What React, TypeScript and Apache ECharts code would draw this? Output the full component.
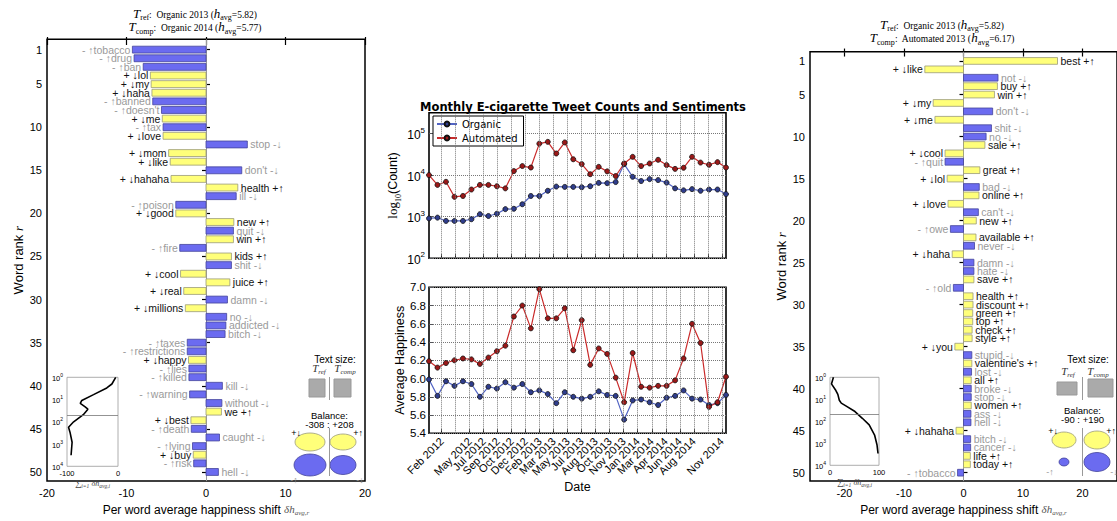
import React, { useEffect, useRef } from "react";
import * as echarts from "echarts";

const SANS = "'Liberation Sans', Arial, Helvetica, sans-serif";
const DEJAVU = "'DejaVu Sans', sans-serif";
const SERIF = "'Liberation Serif', 'DejaVu Serif', serif";

// ---------- Left word shift: Organic 2013 vs Organic 2014 ----------
const leftWords = ["tobacco","drug","ban","lol","my","haha","banned","doesn't","me","tax",
  "love","stop","mom","like","don't","hahaha","health","ill","poison","good",
  "new","quit","win","fire","kids","shit","cool","juice","real","damn",
  "millions","no","addicted","bitch","taxes","restrictions","happy","lies","killed","kill",
  "warning","without","we","best","death","caught","lying","buy","risk","hell"];
const leftShifts = [-9.26,-9.05,-7.9,-7.0,-6.9,-6.8,-6.7,-5.6,-5.5,-5.4,
  -5.4,5.2,-4.7,-4.5,4.5,-4.4,4.0,3.8,-3.8,-3.8,
  3.5,3.45,3.45,-3.3,3.2,3.2,-3.2,3.0,-2.8,2.7,
  -2.6,2.6,2.5,2.4,-2.36,-2.36,-2.2,-2.15,-2.15,2.06,
  -2.06,2.0,1.94,-1.9,-1.85,1.7,-1.7,-1.6,-1.55,1.56];
const leftKinds = "---+++--+-" + "+-++-++--+" + "+-+-+-+++-" + "+-----+---" + "--++---+--";

// ---------- Right word shift: Organic 2013 vs Automated 2013 ----------
const rightWords = ["best","like","not","buy","win","my","don't","me","shit","no",
  "sale","cool","quit","great","lol","bad","online","love","can't","new",
  "owe","available","never","haha","damn","hate","save","old","health","discount",
  "green","top","check","style","you","stupid","valentine's","lost","all","broke",
  "stop","women","ass","hell","hahaha","bitch","cancer","life","today","tobacco"];
const rightShifts = [15.8,-6.5,5.8,5.7,5.2,-5.1,4.9,-4.8,4.7,3.8,
  3.6,-3.1,-3.1,2.75,-2.75,2.65,2.6,-2.6,2.5,2.15,
  -2.2,2.1,1.85,-1.9,1.75,1.75,1.75,-1.7,1.6,1.6,
  1.55,1.55,1.45,1.45,-1.45,1.4,1.4,1.35,1.3,1.3,
  1.3,1.3,1.25,1.25,-1.25,1.2,1.2,1.15,1.15,-1.0];
const rightKinds = "++-+++-+--" + "++-++-++-+" + "-+-+--+-++" + "+++++-+-+-" + "-+--+--++-";

const rankTicks = [1, 5, 10, 15, 20, 25, 30, 35, 40, 45, 50];
const shiftTicks = [-20, -10, 0, 10, 20];

// ---------- Insets (cumulative shift) ----------
const leftCumRanks = [1, 2, 3, 6, 11, 15, 21, 27, 48, 100, 175, 300, 830, 3200];
const leftCumValues = [-4.5, -12, -22, -48, -71, -74, -65, -59, -68, -87, -97, -94, -90, -92];
const rightCumRanks = [1, 2, 4, 6, 11, 15, 21, 36, 73, 146, 420, 1200, 2900];
const rightCumValues = [7, 3, 12, 16, 19, 23, 34, 51, 66, 80, 91, 96, 98];

// ---------- Monthly series ----------
const months = ["Jan 2012","Feb 2012","Mar 2012","Apr 2012","May 2012","Jun 2012","Jul 2012","Aug 2012","Sep 2012","Oct 2012","Nov 2012","Dec 2012",
  "Jan 2013","Feb 2013","Mar 2013","Apr 2013","May 2013","Jun 2013","Jul 2013","Aug 2013","Sep 2013","Oct 2013","Nov 2013","Dec 2013",
  "Jan 2014","Feb 2014","Mar 2014","Apr 2014","May 2014","Jun 2014","Jul 2014","Aug 2014","Sep 2014","Oct 2014","Nov 2014","Dec 2014"];
const dateTickLabels = ["Feb 2012","Apr 2012","May 2012","Jul 2012","Sep 2012","Oct 2012","Dec 2012","Feb 2013","Mar 2013","May 2013","Jul 2013",
  "Aug 2013","Oct 2013","Nov 2013","Jan 2014","Mar 2014","Apr 2014","Jun 2014","Aug 2014","Sep 2014","Nov 2014"];
const dateTickStart = 1.5; // in months after the first point
const dateTickStep = 1.65; // months between date ticks
const organicCounts = [910,950,790,790,790,870,1150,1040,1180,1520,1550,1990,3150,3150,4200,5300,5200,5200,5100,5400,6500,6400,6800,18400,9100,7200,8000,7600,6600,4800,4300,4600,4200,4500,4500,3500];
const automatedCounts = [10000,5800,6900,3000,3150,4500,5800,5800,5400,4800,12500,16500,15200,57000,63000,33000,61000,24000,18400,10500,15800,12300,9500,19000,27500,16500,19000,23300,17400,14100,15000,27500,20000,17700,20500,15200];
const organicHappiness = [5.99,5.81,5.97,5.92,5.97,5.94,5.80,5.91,5.89,5.96,5.90,5.94,5.85,5.87,5.83,5.73,5.85,5.80,5.78,5.80,5.86,5.82,5.81,5.55,5.76,5.77,5.74,5.71,5.79,5.81,5.87,5.78,5.77,5.71,5.73,5.82];
const automatedHappiness = [6.19,6.12,6.17,6.20,6.22,6.21,6.16,6.23,6.30,6.36,6.68,6.80,6.55,6.98,6.66,6.66,6.77,6.31,6.64,6.15,6.33,6.27,6.01,5.74,6.28,5.91,5.90,5.92,5.92,5.98,6.22,6.60,6.39,5.69,5.74,6.02];

const BLUE = "#6b6bf0";
const BLUE_EDGE = "#44449a";
const YELLOW = "#ffff7a";
const YELLOW_EDGE = "#9a9a7a";
const GRAY_TXT = "#9a9a9a";

function shiftSeries(words: string[], shifts: number[], kinds: string, xi: number, yi: number) {
  return {
    type: "custom",
    xAxisIndex: xi,
    yAxisIndex: yi,
    clip: false,
    data: shifts.map((v, i) => [v, i + 1]),
    encode: { x: 0, y: 1 },
    renderItem: (params: any, api: any) => {
      const i = params.dataIndex;
      const v = api.value(0) as number;
      const r = api.value(1) as number;
      const p0 = api.coord([0, r]);
      const p1 = api.coord([v, r]);
      const h = Math.abs(api.size([0, 0.8])[1]);
      const x = Math.min(p0[0], p1[0]);
      const w = Math.abs(p1[0] - p0[0]);
      const plus = kinds[i] === "+";
      const arrow = (v < 0) === plus ? "↓" : "↑";
      const sign = plus ? "+" : "-";
      const neg = v < 0;
      const label = neg ? `${sign} ${arrow}${words[i]}` : `${words[i]} ${sign}${arrow}`;
      return {
        type: "group",
        children: [
          {
            type: "rect",
            shape: { x, y: p0[1] - h / 2, width: w, height: h },
            style: { fill: plus ? YELLOW : BLUE, stroke: plus ? YELLOW_EDGE : BLUE_EDGE, lineWidth: 0.8 },
          },
          {
            type: "text",
            style: {
              text: label,
              x: neg ? x - 2 : x + w + 3,
              y: p0[1],
              align: neg ? "right" : "left",
              verticalAlign: "middle",
              fontSize: 10.5,
              fontFamily: SANS,
              fill: plus ? "#111" : GRAY_TXT,
            },
          },
        ],
      };
    },
    markLine: {
      silent: true,
      symbol: ["none", "none"],
      label: { show: false },
      lineStyle: { color: "#999", width: 1, type: "solid" },
      data: [{ xAxis: 0 }],
      z: 1,
    },
  };
}

function shiftAxes(gridIndex: number, xMin: number, xMax: number, yMin: number, yMax: number) {
  const tick = { show: true, inside: false, length: 4, lineStyle: { color: "#000", width: 1.2 } };
  const xAxes = [
    {
      type: "value", gridIndex, min: xMin, max: xMax, position: "bottom",
      axisLine: { show: false },
      axisTick: { ...tick, customValues: shiftTicks },
      axisLabel: { customValues: shiftTicks, fontSize: 11, color: "#000", fontFamily: SANS, margin: 6 },
      splitLine: { show: false },
      name: "Per word average happiness shift {i|δh}{s|avg,r}",
      nameLocation: "middle",
      nameGap: 21,
      nameTextStyle: {
        fontSize: 12, fontFamily: SANS, color: "#000",
        rich: {
          i: { fontFamily: SERIF, fontStyle: "italic", fontSize: 11, color: "#555", padding: [0, 0, 2, 0], verticalAlign: "bottom" },
          s: { fontFamily: SERIF, fontStyle: "italic", fontSize: 7, color: "#555", verticalAlign: "bottom" },
        },
      },
    },
    {
      type: "value", gridIndex, min: xMin, max: xMax, position: "top",
      axisLine: { show: false },
      axisTick: { ...tick, customValues: shiftTicks },
      axisLabel: { show: false },
      splitLine: { show: false },
    },
  ];
  const yAxes = [
    {
      type: "value", gridIndex, min: yMin, max: yMax, inverse: true, position: "left",
      axisLine: { show: false },
      axisTick: { ...tick, customValues: rankTicks },
      axisLabel: { customValues: rankTicks, fontSize: 11, color: "#000", fontFamily: SANS, margin: 5 },
      splitLine: { show: false },
      name: "Word rank {i|r}",
      nameLocation: "middle",
      nameGap: 22,
      nameRotate: 90,
      nameTextStyle: {
        fontSize: 13, fontFamily: SANS, color: "#000",
        rich: { i: { fontFamily: SERIF, fontStyle: "italic", fontSize: 13 } },
      },
    },
    {
      type: "value", gridIndex, min: yMin, max: yMax, inverse: true, position: "right",
      axisLine: { show: false },
      axisTick: { ...tick, customValues: rankTicks },
      axisLabel: { show: false },
      splitLine: { show: false },
    },
  ];
  return { xAxes, yAxes };
}

function insetAxes(gridIndex: number, xMin: number, xMax: number) {
  return {
    x: {
      type: "value", gridIndex, min: xMin, max: xMax,
      axisLine: { show: false }, axisTick: { show: false }, splitLine: { show: false },
      axisLabel: { customValues: [xMin, xMax], fontSize: 7.5, color: "#000", fontFamily: SANS, margin: 3 },
      name: "{a|∑}{s|i=1} {b|δh}{s|avg,i}",
      nameLocation: "middle",
      nameGap: 11,
      nameTextStyle: {
        fontSize: 8, color: "#444",
        rich: {
          a: { fontFamily: SERIF, fontSize: 9, padding: [0, 0, 2, 0], verticalAlign: "bottom" },
          b: { fontFamily: SERIF, fontStyle: "italic", fontSize: 8, padding: [0, 0, 2, 0], verticalAlign: "bottom" },
          s: { fontFamily: SERIF, fontStyle: "italic", fontSize: 5.5, verticalAlign: "bottom" },
        },
      },
    },
    y: {
      type: "log", logBase: 10, gridIndex, min: 1, max: 10000, inverse: true,
      axisLine: { show: false }, axisTick: { show: false }, splitLine: { show: false },
      axisLabel: {
        customValues: [1, 10, 100, 1000, 10000], fontSize: 7.5, color: "#000", fontFamily: SANS, margin: 4,
        formatter: (v: number) => `{b|10}{p|${Math.round(Math.log10(v))}}`,
        rich: {
          b: { fontSize: 7.5, fontFamily: SANS, verticalAlign: "bottom" },
          p: { fontSize: 5, fontFamily: SANS, verticalAlign: "bottom", padding: [0, 0, 5, 0] },
        },
      },
    },
  };
}

function headerText(cx: number, y: number, refLabel: string, refAvg: string, compLabel: string, compAvg: string) {
  const rich = {
    T: { fontFamily: SERIF, fontStyle: "italic", fontSize: 13, padding: [0, 0, 2, 0], verticalAlign: "bottom", fill: "#000" },
    s: { fontFamily: SERIF, fontSize: 8, verticalAlign: "bottom", fill: "#000" },
    n: { fontFamily: SERIF, fontSize: 9.5, padding: [0, 0, 2, 0], verticalAlign: "bottom", fill: "#000" },
  };
  return [
    { type: "text", x: cx, y, style: { text: `{T|T}{s|ref}{n|:  ${refLabel} (}{T|h}{s|avg}{n|=${refAvg})}`, rich, align: "center", verticalAlign: "middle" } },
    { type: "text", x: cx, y: y + 13.5, style: { text: `{T|T}{s|comp}{n|:  ${compLabel} (}{T|h}{s|avg}{n|=${compAvg})}`, rich, align: "center", verticalAlign: "middle" } },
  ];
}

function balanceBox(b: any) {
  const txt = (x: number, y: number, text: string, extra: any = {}) => ({
    type: "text", x, y, style: { text, align: "center", verticalAlign: "middle", fontSize: 10, fontFamily: SANS, fill: "#000", ...extra },
  });
  const tRich = {
    T: { fontFamily: SERIF, fontStyle: "italic", fontSize: 11, padding: [0, 0, 2, 0], verticalAlign: "bottom", fill: "#333" },
    s: { fontFamily: SERIF, fontStyle: "italic", fontSize: 7, verticalAlign: "bottom", fill: "#333" },
  };
  return [
    txt(b.cx, 359, "Text size:"),
    { type: "text", x: b.refX, y: b.tY, style: { text: "{T|T}{s|ref}", rich: tRich, align: "center", verticalAlign: "middle" } },
    { type: "text", x: b.compX, y: b.tY, style: { text: "{T|T}{s|comp}", rich: tRich, align: "center", verticalAlign: "middle" } },
    { type: "rect", shape: b.rectL, style: { fill: "#aaa", stroke: "#999", lineWidth: 1 } },
    { type: "rect", shape: b.rectR, style: { fill: "#aaa", stroke: "#999", lineWidth: 1 } },
    { type: "line", shape: { x1: b.div, y1: 377, x2: b.div, y2: 400 }, style: { stroke: "#999", lineWidth: 1 } },
    txt(b.div, b.balY, "Balance:", { fontSize: 9.5 }),
    txt(b.div, b.balY + 8.5, b.balance, { fontSize: 9.5 }),
    { type: "ellipse", shape: b.yl, style: { fill: YELLOW, stroke: YELLOW_EDGE, lineWidth: 0.8 } },
    { type: "ellipse", shape: b.yr, style: { fill: YELLOW, stroke: YELLOW_EDGE, lineWidth: 0.8 } },
    { type: "ellipse", shape: b.bl, style: { fill: BLUE, stroke: BLUE_EDGE, lineWidth: 0.8 } },
    { type: "ellipse", shape: b.br, style: { fill: BLUE, stroke: BLUE_EDGE, lineWidth: 0.8 } },
    { type: "line", shape: { x1: b.div, y1: 428, x2: b.div, y2: 476 }, style: { stroke: "#999", lineWidth: 1 } },
    txt(b.pl[0], b.pl[1], "+↓", { fontSize: 9 }),
    txt(b.pr[0], b.pr[1], "+↑", { fontSize: 9 }),
    txt(b.ml[0], b.ml[1], "-↑", { fontSize: 9, fill: GRAY_TXT }),
    txt(b.mr[0], b.mr[1], "-↓", { fontSize: 9, fill: GRAY_TXT }),
  ];
}

function buildOption() {
  const L = shiftAxes(0, -20, 20, -0.2, 51.06);
  const R = shiftAxes(1, -25.8, 25.8, -0.1, 51);
  const iL = insetAxes(4, -100, 0);
  const iR = insetAxes(5, 0, 100);
  const tickPos = dateTickLabels.map((_, k) => dateTickStart + k * dateTickStep);
  const labelFor = (v: number) => {
    const k = Math.round((Number(v) - dateTickStart) / dateTickStep);
    return dateTickLabels[Math.max(0, Math.min(dateTickLabels.length - 1, k))];
  };
  const midX = (gridIndex: number, labels: boolean) => ({
    type: "value", gridIndex, min: 0, max: months.length - 1,
    axisLine: { show: false },
    axisTick: { show: true, inside: true, length: 4, customValues: tickPos, lineStyle: { color: "#000" } },
    splitLine: { show: false },
    axisLabel: labels
      ? {
          show: true, customValues: tickPos, formatter: labelFor, rotate: 45, fontSize: 11, fontFamily: SANS,
          color: "#000", margin: 6, showMinLabel: true, showMaxLabel: true, hideOverlap: false,
        }
      : { show: false, customValues: tickPos },
    ...(labels
      ? { name: "Date", nameLocation: "middle", nameGap: 47, nameTextStyle: { fontSize: 12.5, fontFamily: SANS, color: "#000" } }
      : {}),
  });
  const gridLines = {
    silent: true, symbol: ["none", "none"], label: { show: false },
    lineStyle: { type: "dotted", color: "#777", width: 1 },
    data: tickPos.map((p) => ({ xAxis: p })),
  };
  const lineSeries = (name: string, data: number[], xi: number, yi: number, color: string, marker: string, withGrid: boolean) => ({
    type: "line", name, data: months.map((_, i) => [i, data[i]]), xAxisIndex: xi, yAxisIndex: yi,
    symbol: "circle", symbolSize: 5,
    lineStyle: { color, width: 1.2 },
    itemStyle: { color: marker, borderColor: "#111", borderWidth: 0.8 },
    z: 3,
    ...(withGrid ? { markLine: gridLines } : {}),
  });
  const insetLine = (xs: number[], ys: number[], xi: number) => ({
    type: "line", xAxisIndex: xi, yAxisIndex: xi, data: xs.map((x, i) => [x, ys[i]]),
    symbol: "none", lineStyle: { color: "#000", width: 1.6 },
    markLine: {
      silent: true, symbol: ["none", "none"], label: { show: false },
      lineStyle: { color: "#777", width: 0.8, type: "solid" }, data: [{ yAxis: 50 }],
    },
  });

  return {
    animation: false,
    backgroundColor: "#fff",
    title: {
      text: "Monthly E-cigarette Tweet Counts and Sentiments",
      left: 578, top: 96, textAlign: "center",
      textStyle: { fontSize: 11.5, fontWeight: "bold", fontFamily: DEJAVU, color: "#000" },
    },
    legend: {
      data: ["Organic", "Automated"],
      left: 433, top: 116, orient: "vertical",
      backgroundColor: "#fff", borderColor: "#000", borderWidth: 1,
      padding: [3, 6, 3, 3], itemGap: 4, itemWidth: 20, itemHeight: 6,
      textStyle: { fontSize: 10, fontFamily: DEJAVU, color: "#000" },
    },
    grid: [
      { left: 47, top: 39.3, width: 318, height: 450, show: true, borderColor: "#000", borderWidth: 1.5, backgroundColor: "transparent" },
      { left: 810, top: 51.7, right: -2, height: 433.3, show: true, borderColor: "#000", borderWidth: 1.5, backgroundColor: "transparent" },
      { left: 429, top: 112.7, width: 297, height: 145.6, show: true, borderColor: "#000", borderWidth: 1.6, backgroundColor: "transparent" },
      { left: 429, top: 287.3, width: 297, height: 146, show: true, borderColor: "#000", borderWidth: 1.6, backgroundColor: "transparent" },
      { left: 67, top: 377.3, width: 51, height: 89, show: true, borderColor: "#999", borderWidth: 0.8, backgroundColor: "#fff" },
      { left: 830, top: 377.3, width: 49, height: 88, show: true, borderColor: "#999", borderWidth: 0.8, backgroundColor: "#fff" },
    ],
    xAxis: [
      ...L.xAxes, ...R.xAxes,
      midX(2, false), midX(3, true),
      iL.x, iR.x,
    ],
    yAxis: [
      ...L.yAxes, ...R.yAxes,
      {
        type: "log", logBase: 10, gridIndex: 2, min: 100, max: 316228,
        axisLine: { show: false },
        axisTick: { show: true, inside: true, length: 4, customValues: [100, 1000, 10000, 100000] },
        splitLine: { show: true, lineStyle: { type: "dotted", color: "#777", width: 1 } },
        axisLabel: {
          customValues: [100, 1000, 10000, 100000], margin: 4, color: "#000",
          formatter: (v: number) => `{b|10}{p|${Math.round(Math.log10(v))}}`,
          rich: {
            b: { fontSize: 12, fontFamily: SANS, verticalAlign: "bottom" },
            p: { fontSize: 8, fontFamily: SANS, verticalAlign: "bottom", padding: [0, 0, 7, 0] },
          },
        },
        name: "{l|log}{s|10}{c|(Count)}",
        nameLocation: "middle", nameGap: 27, nameRotate: 90,
        nameTextStyle: {
          color: "#000",
          rich: {
            l: { fontFamily: SERIF, fontSize: 13, padding: [0, 0, 3, 0], verticalAlign: "bottom" },
            s: { fontFamily: SERIF, fontSize: 8, verticalAlign: "bottom" },
            c: { fontFamily: SANS, fontSize: 12.5, padding: [0, 0, 3, 0], verticalAlign: "bottom" },
          },
        },
      },
      {
        type: "value", gridIndex: 3, min: 5.4, max: 7.0, interval: 0.2,
        axisLine: { show: false },
        axisTick: { show: true, inside: true, length: 4 },
        splitLine: { show: true, lineStyle: { type: "dotted", color: "#777", width: 1 } },
        axisLabel: { fontSize: 11.5, fontFamily: SANS, color: "#000", margin: 3, formatter: (v: number) => v.toFixed(1) },
        name: "Average Happiness",
        nameLocation: "middle", nameGap: 21, nameRotate: 90,
        nameTextStyle: { fontSize: 12.5, fontFamily: SANS, color: "#000" },
      },
      iL.y, iR.y,
    ],
    series: [
      shiftSeries(leftWords, leftShifts, leftKinds, 0, 0),
      shiftSeries(rightWords, rightShifts, rightKinds, 2, 2),
      lineSeries("Organic", organicCounts, 4, 4, "#5264c4", "#2f3d8c", true),
      lineSeries("Automated", automatedCounts, 4, 4, "#c92a2a", "#9a1818", false),
      lineSeries("Organic", organicHappiness, 5, 5, "#5264c4", "#2f3d8c", true),
      lineSeries("Automated", automatedHappiness, 5, 5, "#c92a2a", "#9a1818", false),
      insetLine(leftCumValues, leftCumRanks, 6),
      insetLine(rightCumValues, rightCumRanks, 7),
    ],
    graphic: [
      ...headerText(195, 14, "Organic 2013", "5.82", "Organic 2014", "5.77"),
      ...headerText(942, 25, "Organic 2013", "5.82", "Automated 2013", "6.17"),
      ...balanceBox({
        cx: 335, refX: 319, compX: 345, tY: 369,
        rectL: { x: 309, y: 379, width: 16, height: 18 }, rectR: { x: 334, y: 379, width: 17, height: 18 },
        div: 329.5, balY: 415.5, balance: "-308 : +208",
        yl: { cx: 310, cy: 442, rx: 15, ry: 9 }, yr: { cx: 343, cy: 442, rx: 13, ry: 8 },
        bl: { cx: 310, cy: 465, rx: 16, ry: 11 }, br: { cx: 343, cy: 465, rx: 13, ry: 9.5 },
        pl: [296, 433], pr: [358, 433], ml: [294, 480], mr: [360, 480],
      }),
      ...balanceBox({
        cx: 1088, refX: 1068, compX: 1098, tY: 372,
        rectL: { x: 1057, y: 382, width: 20, height: 13 }, rectR: { x: 1088, y: 379, width: 25, height: 18 },
        div: 1082.5, balY: 410.5, balance: "-90 : +190",
        yl: { cx: 1064, cy: 440, rx: 12, ry: 8 }, yr: { cx: 1097, cy: 440, rx: 13, ry: 9 },
        bl: { cx: 1064, cy: 462, rx: 5, ry: 4 }, br: { cx: 1097, cy: 462, rx: 13, ry: 9.5 },
        pl: [1053, 431], pr: [1111, 431], ml: [1050, 472], mr: [1114, 472],
      }),
    ],
  };
}

export default function App() {
  const ref = useRef<HTMLDivElement>(null);
  useEffect(() => {
    if (!ref.current) return;
    const chart = echarts.init(ref.current, null, { renderer: "svg" });
    chart.setOption(buildOption() as any);
    return () => chart.dispose();
  }, []);
  return (
    <div
      ref={ref}
      style={{ position: "fixed", left: 0, top: 0, width: 1117, height: 521, background: "#fff" }}
    />
  );
}
